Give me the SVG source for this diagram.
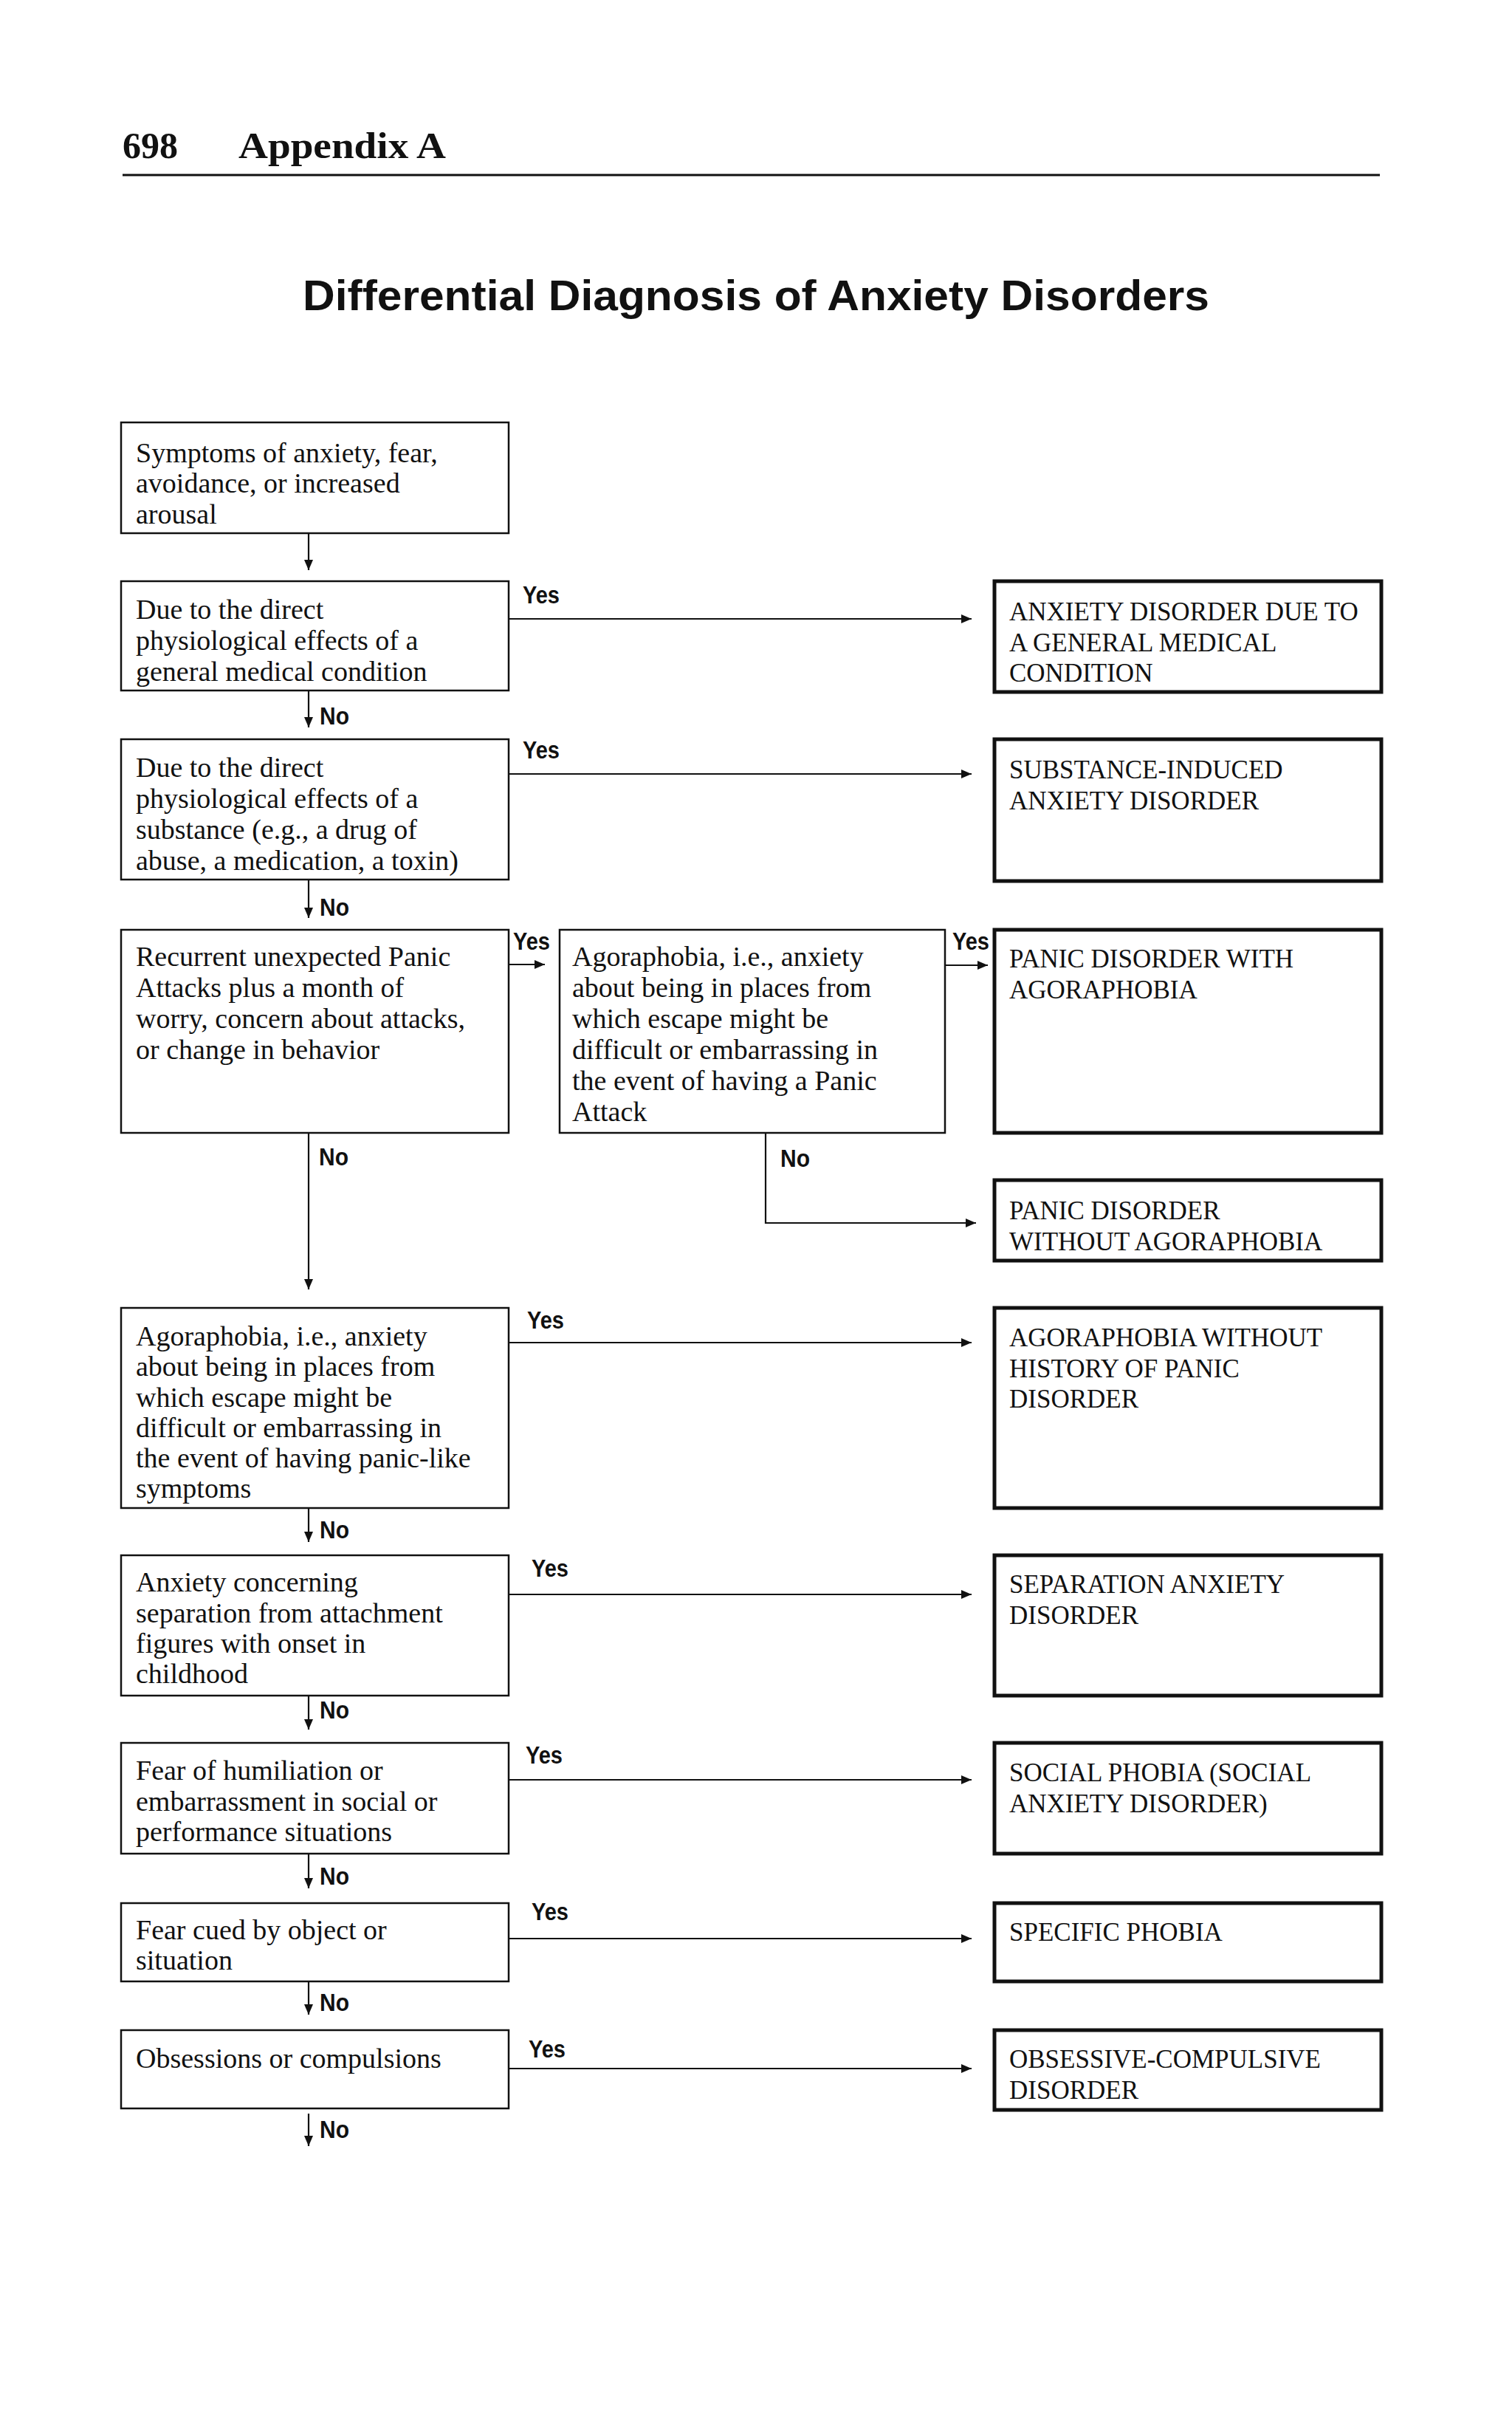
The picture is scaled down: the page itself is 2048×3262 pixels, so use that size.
<svg xmlns="http://www.w3.org/2000/svg" width="2048" height="3262" viewBox="0 0 2048 3262">
<style>
.bg{fill:#fff}
.q{fill:#fff;stroke:#111;stroke-width:2.5}
.r{fill:#fff;stroke:#111;stroke-width:5}
.t{font-family:"Liberation Serif","Times New Roman",serif;font-size:38px;fill:#111}
.c{font-family:"Liberation Serif","Times New Roman",serif;font-size:35px;fill:#111}
.lb{font-family:"Liberation Sans Narrow","Liberation Sans",Arial,sans-serif;font-weight:bold;font-size:33px;fill:#111}
.hd{font-family:"Liberation Serif","Times New Roman",serif;font-weight:bold;font-size:50px;fill:#111}
.ti{font-family:"Liberation Sans Narrow","Liberation Sans",Arial,sans-serif;font-weight:bold;font-size:58px;fill:#111}
.cn{fill:none;stroke:#111;stroke-width:2.2}
</style>
<defs>
<marker id="ah" viewBox="0 0 14 12" refX="14" refY="6" markerWidth="14" markerHeight="12" markerUnits="userSpaceOnUse" orient="auto"><path d="M0,0 L14,6 L0,12 z" fill="#111"/></marker>
</defs>
<rect class="bg" x="0" y="0" width="2048" height="3262"/>
<g id="header">
<text class="hd" x="166" y="214">698</text>
<text class="hd" x="323" y="214" textLength="281" lengthAdjust="spacingAndGlyphs">Appendix A</text>
<line x1="166" y1="237" x2="1869" y2="237" stroke="#111" stroke-width="3"/>
<text class="ti" x="410" y="420" textLength="1228" lengthAdjust="spacingAndGlyphs">Differential Diagnosis of Anxiety Disorders</text>
</g>
<g id="connectors">
<path class="cn" marker-end="url(#ah)" d="M418,723 V772"/>
<path class="cn" marker-end="url(#ah)" d="M689,838 H1316"/>
<path class="cn" marker-end="url(#ah)" d="M418,936 V985"/>
<path class="cn" marker-end="url(#ah)" d="M689,1048 H1316"/>
<path class="cn" marker-end="url(#ah)" d="M418,1192 V1243"/>
<path class="cn" marker-end="url(#ah)" d="M689,1306 H738"/>
<path class="cn" marker-end="url(#ah)" d="M1280,1307 H1338"/>
<path class="cn" marker-end="url(#ah)" d="M1037,1534 V1656 H1322"/>
<path class="cn" marker-end="url(#ah)" d="M418,1534 V1746"/>
<path class="cn" marker-end="url(#ah)" d="M689,1818 H1316"/>
<path class="cn" marker-end="url(#ah)" d="M418,2043 V2088"/>
<path class="cn" marker-end="url(#ah)" d="M689,2159 H1316"/>
<path class="cn" marker-end="url(#ah)" d="M418,2296 V2342"/>
<path class="cn" marker-end="url(#ah)" d="M689,2410 H1316"/>
<path class="cn" marker-end="url(#ah)" d="M418,2510 V2557"/>
<path class="cn" marker-end="url(#ah)" d="M689,2625 H1316"/>
<path class="cn" marker-end="url(#ah)" d="M418,2683 V2728"/>
<path class="cn" marker-end="url(#ah)" d="M689,2801 H1316"/>
<path class="cn" marker-end="url(#ah)" d="M418,2862 V2906"/>
<text class="lb" x="708" y="817" textLength="50" lengthAdjust="spacingAndGlyphs">Yes</text>
<text class="lb" x="708" y="1027" textLength="50" lengthAdjust="spacingAndGlyphs">Yes</text>
<text class="lb" x="695" y="1286" textLength="50" lengthAdjust="spacingAndGlyphs">Yes</text>
<text class="lb" x="1290" y="1286" textLength="50" lengthAdjust="spacingAndGlyphs">Yes</text>
<text class="lb" x="714" y="1799" textLength="50" lengthAdjust="spacingAndGlyphs">Yes</text>
<text class="lb" x="720" y="2135" textLength="50" lengthAdjust="spacingAndGlyphs">Yes</text>
<text class="lb" x="712" y="2388" textLength="50" lengthAdjust="spacingAndGlyphs">Yes</text>
<text class="lb" x="720" y="2600" textLength="50" lengthAdjust="spacingAndGlyphs">Yes</text>
<text class="lb" x="716" y="2786" textLength="50" lengthAdjust="spacingAndGlyphs">Yes</text>
<text class="lb" x="433" y="981" textLength="40" lengthAdjust="spacingAndGlyphs">No</text>
<text class="lb" x="433" y="1240" textLength="40" lengthAdjust="spacingAndGlyphs">No</text>
<text class="lb" x="432" y="1578" textLength="40" lengthAdjust="spacingAndGlyphs">No</text>
<text class="lb" x="1057" y="1580" textLength="40" lengthAdjust="spacingAndGlyphs">No</text>
<text class="lb" x="433" y="2083" textLength="40" lengthAdjust="spacingAndGlyphs">No</text>
<text class="lb" x="433" y="2327" textLength="40" lengthAdjust="spacingAndGlyphs">No</text>
<text class="lb" x="433" y="2552" textLength="40" lengthAdjust="spacingAndGlyphs">No</text>
<text class="lb" x="433" y="2723" textLength="40" lengthAdjust="spacingAndGlyphs">No</text>
<text class="lb" x="433" y="2895" textLength="40" lengthAdjust="spacingAndGlyphs">No</text>
</g>
<g id="n1"><rect class="q" x="164" y="572" width="525" height="150"/>
<text class="t" x="184" y="626">Symptoms of anxiety, fear,</text>
<text class="t" x="184" y="667">avoidance, or increased</text>
<text class="t" x="184" y="709">arousal</text></g>
<g id="n2"><rect class="q" x="164" y="787" width="525" height="148"/>
<text class="t" x="184" y="838">Due to the direct</text>
<text class="t" x="184" y="880">physiological effects of a</text>
<text class="t" x="184" y="922">general medical condition</text></g>
<g id="n3"><rect class="q" x="164" y="1001" width="525" height="190"/>
<text class="t" x="184" y="1052">Due to the direct</text>
<text class="t" x="184" y="1094">physiological effects of a</text>
<text class="t" x="184" y="1136">substance (e.g., a drug of</text>
<text class="t" x="184" y="1178">abuse, a medication, a toxin)</text></g>
<g id="n4"><rect class="q" x="164" y="1259" width="525" height="275"/>
<text class="t" x="184" y="1308">Recurrent unexpected Panic</text>
<text class="t" x="184" y="1350">Attacks plus a month of</text>
<text class="t" x="184" y="1392">worry, concern about attacks,</text>
<text class="t" x="184" y="1434">or change in behavior</text></g>
<g id="n4b"><rect class="q" x="758" y="1259" width="522" height="275"/>
<text class="t" x="775" y="1308">Agoraphobia, i.e., anxiety</text>
<text class="t" x="775" y="1350">about being in places from</text>
<text class="t" x="775" y="1392">which escape might be</text>
<text class="t" x="775" y="1434">difficult or embarrassing in</text>
<text class="t" x="775" y="1476">the event of having a Panic</text>
<text class="t" x="775" y="1518">Attack</text></g>
<g id="n5"><rect class="q" x="164" y="1771" width="525" height="271"/>
<text class="t" x="184" y="1822">Agoraphobia, i.e., anxiety</text>
<text class="t" x="184" y="1863">about being in places from</text>
<text class="t" x="184" y="1905">which escape might be</text>
<text class="t" x="184" y="1946">difficult or embarrassing in</text>
<text class="t" x="184" y="1987">the event of having panic-like</text>
<text class="t" x="184" y="2028">symptoms</text></g>
<g id="n6"><rect class="q" x="164" y="2106" width="525" height="190"/>
<text class="t" x="184" y="2155">Anxiety concerning</text>
<text class="t" x="184" y="2197">separation from attachment</text>
<text class="t" x="184" y="2238">figures with onset in</text>
<text class="t" x="184" y="2279">childhood</text></g>
<g id="n7"><rect class="q" x="164" y="2360" width="525" height="150"/>
<text class="t" x="184" y="2410">Fear of humiliation or</text>
<text class="t" x="184" y="2452">embarrassment in social or</text>
<text class="t" x="184" y="2493">performance situations</text></g>
<g id="n8"><rect class="q" x="164" y="2577" width="525" height="106"/>
<text class="t" x="184" y="2626">Fear cued by object or</text>
<text class="t" x="184" y="2667">situation</text></g>
<g id="n9"><rect class="q" x="164" y="2749" width="525" height="106"/>
<text class="t" x="184" y="2800">Obsessions or compulsions</text></g>
<g id="r1"><rect class="r" x="1347" y="787" width="524" height="150"/>
<text class="c" x="1367" y="840">ANXIETY DISORDER DUE TO</text>
<text class="c" x="1367" y="882">A GENERAL MEDICAL</text>
<text class="c" x="1367" y="923">CONDITION</text></g>
<g id="r2"><rect class="r" x="1347" y="1001" width="524" height="192"/>
<text class="c" x="1367" y="1054">SUBSTANCE-INDUCED</text>
<text class="c" x="1367" y="1096">ANXIETY DISORDER</text></g>
<g id="r3"><rect class="r" x="1347" y="1259" width="524" height="275"/>
<text class="c" x="1367" y="1310">PANIC DISORDER WITH</text>
<text class="c" x="1367" y="1352">AGORAPHOBIA</text></g>
<g id="r4"><rect class="r" x="1347" y="1598" width="524" height="109"/>
<text class="c" x="1367" y="1651">PANIC DISORDER</text>
<text class="c" x="1367" y="1693">WITHOUT AGORAPHOBIA</text></g>
<g id="r5"><rect class="r" x="1347" y="1771" width="524" height="271"/>
<text class="c" x="1367" y="1823">AGORAPHOBIA WITHOUT</text>
<text class="c" x="1367" y="1865">HISTORY OF PANIC</text>
<text class="c" x="1367" y="1906">DISORDER</text></g>
<g id="r6"><rect class="r" x="1347" y="2106" width="524" height="190"/>
<text class="c" x="1367" y="2157">SEPARATION ANXIETY</text>
<text class="c" x="1367" y="2199">DISORDER</text></g>
<g id="r7"><rect class="r" x="1347" y="2360" width="524" height="150"/>
<text class="c" x="1367" y="2412">SOCIAL PHOBIA (SOCIAL</text>
<text class="c" x="1367" y="2454">ANXIETY DISORDER)</text></g>
<g id="r8"><rect class="r" x="1347" y="2577" width="524" height="106"/>
<text class="c" x="1367" y="2628">SPECIFIC PHOBIA</text></g>
<g id="r9"><rect class="r" x="1347" y="2749" width="524" height="108"/>
<text class="c" x="1367" y="2800">OBSESSIVE-COMPULSIVE</text>
<text class="c" x="1367" y="2842">DISORDER</text></g>
</svg>
